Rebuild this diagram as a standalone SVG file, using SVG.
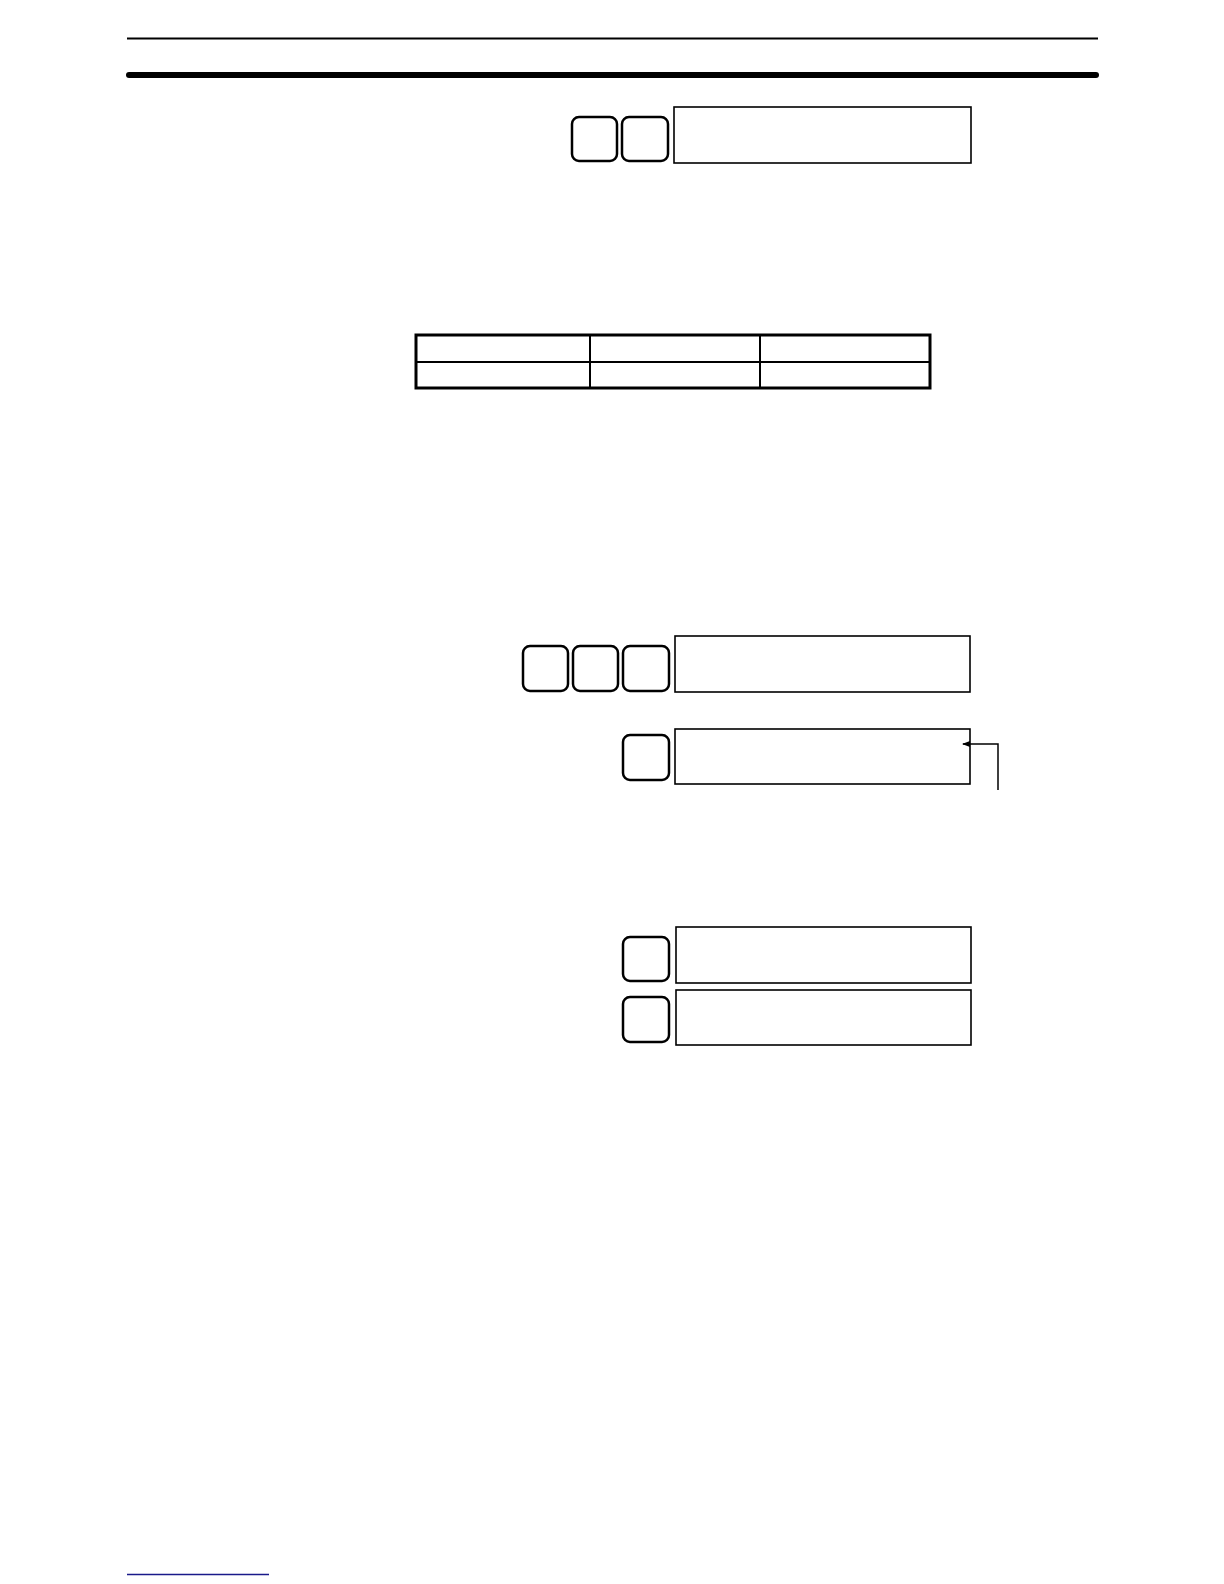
<svg xmlns="http://www.w3.org/2000/svg" width="1224" height="1584" viewBox="0 0 1224 1584">
<style>
.key{fill:#fff;stroke:#000;stroke-width:2.5}
.disp{fill:#fff;stroke:#000;stroke-width:1.6}
.tbl{fill:none;stroke:#000;stroke-width:3}
.tline{stroke:#000;stroke-width:2}
.conn{fill:none;stroke:#000;stroke-width:1.5}
</style>
<defs>
<marker id="ah" markerWidth="8" markerHeight="6" refX="7" refY="3" orient="auto" markerUnits="userSpaceOnUse">
<path d="M0,0 L8,3 L0,6 Z" fill="#000"/>
</marker>
</defs>
<rect width="1224" height="1584" fill="#fff"/>
<g id="header">
<line x1="127" y1="38.5" x2="1098" y2="38.5" stroke="#000" stroke-width="2.2"/>
<line x1="129" y1="75" x2="1096" y2="75" stroke="#000" stroke-width="6" stroke-linecap="round"/>
</g>
<g id="step1">
<rect class="key" x="572" y="117" width="45" height="44" rx="7"/>
<rect class="key" x="622" y="117" width="46" height="44" rx="7"/>
<rect class="disp" x="674" y="107" width="297" height="56"/>
</g>
<g id="table">
<rect class="tbl" x="416" y="335" width="514" height="53"/>
<line class="tline" x1="416" y1="362" x2="930" y2="362"/>
<line class="tline" x1="590" y1="335" x2="590" y2="388"/>
<line class="tline" x1="760" y1="335" x2="760" y2="388"/>
</g>
<g id="step2">
<rect class="key" x="523" y="646" width="45" height="45" rx="7"/>
<rect class="key" x="573" y="646" width="45" height="45" rx="7"/>
<rect class="key" x="623" y="646" width="46" height="45" rx="7"/>
<rect class="disp" x="675" y="636" width="295" height="56"/>
</g>
<g id="step3">
<rect class="key" x="623" y="735" width="46" height="45" rx="7"/>
<rect class="disp" x="675" y="729" width="295" height="55"/>
</g>
<g id="step4">
<rect class="key" x="623" y="937" width="46" height="44" rx="7"/>
<rect class="disp" x="676" y="927" width="295" height="56"/>
</g>
<g id="step5">
<rect class="key" x="623" y="997" width="46" height="45" rx="7"/>
<rect class="disp" x="676" y="990" width="295" height="55"/>
</g>
<g id="connectors">
<polyline class="conn" points="998,790 998,744 963,744" marker-end="url(#ah)"/>
</g>
<g id="footer">
<line x1="127" y1="1574.5" x2="269" y2="1574.5" stroke="#1a1a8a" stroke-width="1.5"/>
</g>
</svg>
